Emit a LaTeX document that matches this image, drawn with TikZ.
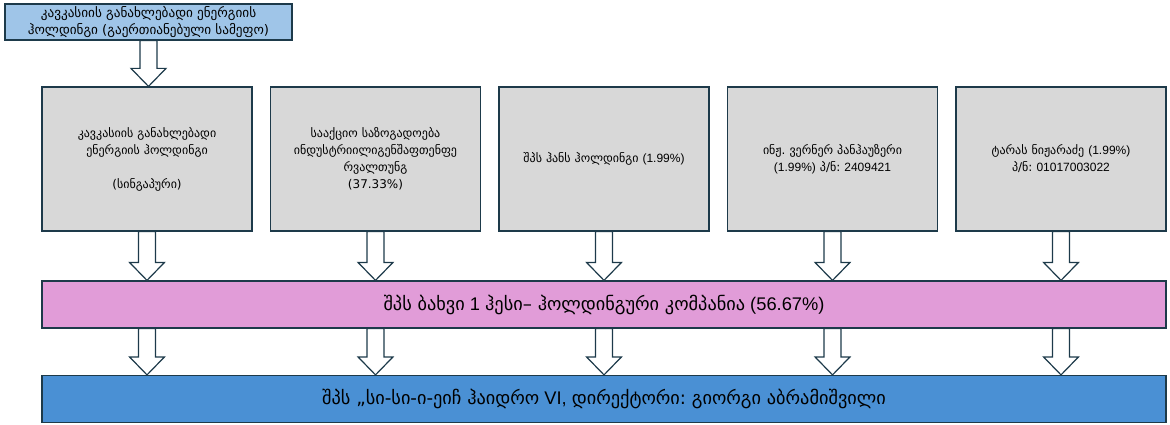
\documentclass[tikz,border=0pt]{standalone}
\usepackage{fontspec}
\setmainfont{Liberation Sans}
\newfontfamily\geo{DejaVu Sans}
\usepackage{tikz}
\usetikzlibrary{shapes.geometric, arrows.meta, positioning, calc}
\frenchspacing
\definecolor{edge}{HTML}{1D3A4A}
\definecolor{topblue}{HTML}{9FC5E8}
\definecolor{boxgray}{HTML}{D8D8D8}
\definecolor{holdpink}{HTML}{E19CD8}
\definecolor{hydroblue}{HTML}{4A90D4}
\tikzstyle{owner} = [rectangle, draw=edge, line width=1.2pt, fill=boxgray, minimum width=210pt, minimum height=144pt, text width=204pt, align=center, inner sep=0pt, font=\fontsize{12}{17}\selectfont]
\tikzstyle{bar} = [rectangle, draw=edge, line width=1.2pt, minimum width=1124pt, minimum height=47pt, inner sep=0pt, font=\fontsize{18.3}{20}\selectfont]
\tikzstyle{hollow} = [draw=edge, line width=1.2pt, fill=white, line join=miter]
\newcommand{\blockarrow}[3]{\path[hollow] let \p1=(#1.south), \p2=(#2.south), \p3=(#3.north) in (\x1-8.5pt,\y2) -- (\x1-8.5pt,\y3+18pt) -- (\x1-17.5pt,\y3+18pt) -- (\x1,\y3) -- (\x1+17.5pt,\y3+18pt) -- (\x1+8.5pt,\y3+18pt) -- (\x1+8.5pt,\y2) -- cycle;}

\begin{document}
\begin{tikzpicture}[x=1pt, y=-1pt, node distance=17.3pt]
	\useasboundingbox (0,0) rectangle (1170,425);
	\node[rectangle, draw=edge, line width=1.2pt, fill=topblue, minimum width=287pt, minimum height=36pt, inner sep=0pt, align=center, font=\fontsize{13.2}{17.5}\selectfont] (parent) at (148.5,22) {\geo კავკასიის განახლებადი ენერგიის\\\geo ჰოლდინგი (გაერთიანებული სამეფო)};
	\node[owner] (singapore) at (147,159) {\geo კავკასიის განახლებადი\\\geo ენერგიის ჰოლდინგი\\[17pt]{\geo(სინგაპური)}};
	\node[owner, right=of singapore] (industrie) {\geo სააქციო საზოგადოება\\\geo ინდუსტრიილიგენშაფთენფე\\\geo რვალთუნგ\\(37.33\%)};
	\node[owner, right=of industrie] (hans) {{\geo შპს ჰანს ჰოლდინგი} (1.99\%)};
	\node[owner, right=of hans] (werner) {{\geo ინჟ. ვერნერ პანჰაუზერი}\\(1.99\%) {\geo პ/ნ:} 2409421};
	\node[owner, right=of werner] (taras) {{\geo ტარას ნიჟარაძე} (1.99\%)\\{\geo პ/ნ:} 01017003022};
	\node[bar, fill=holdpink] (bakhvi) at (604,304.5) {{\geo შპს ბახვი} 1 {\geo ჰესი– ჰოლდინგური კომპანია} (56.67\%)};
	\node[bar, fill=hydroblue] (hydro) at (604,399) {{\geo შპს „სი-სი-ი-ეიჩ ჰაიდრო} VI, {\geo დირექტორი: გიორგი აბრამიშვილი}};
	\blockarrow{parent}{parent}{singapore}
	\blockarrow{singapore}{singapore}{bakhvi}
	\blockarrow{industrie}{industrie}{bakhvi}
	\blockarrow{hans}{hans}{bakhvi}
	\blockarrow{werner}{werner}{bakhvi}
	\blockarrow{taras}{taras}{bakhvi}
	\blockarrow{singapore}{bakhvi}{hydro}
	\blockarrow{industrie}{bakhvi}{hydro}
	\blockarrow{hans}{bakhvi}{hydro}
	\blockarrow{werner}{bakhvi}{hydro}
	\blockarrow{taras}{bakhvi}{hydro}
\end{tikzpicture}
\end{document}
